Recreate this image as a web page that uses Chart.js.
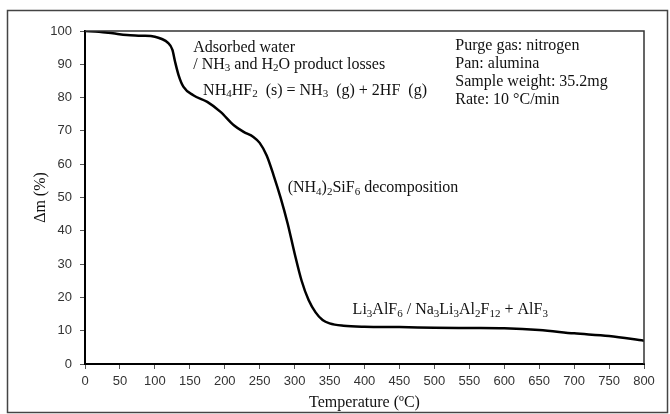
<!DOCTYPE html>
<html>
<head>
<meta charset="utf-8">
<script src="https://cdn.jsdelivr.net/npm/chart.js@4/dist/chart.umd.min.js"></script>
<style>
    html, body { margin: 0; padding: 0; background: #fff; }
    #box { width: 670px; height: 414px; }
</style>
</head>
<body>
<div id="box"><canvas id="tga" width="670" height="414"></canvas></div>
<script>
// temperature (ºC) and mass (%)
var temps = [0, 20, 40, 60, 80, 100, 110, 118, 125, 129, 134, 141, 155, 175, 194, 213, 227, 241, 250, 260,
    270, 280, 290, 300, 310, 320, 330, 340, 350, 370, 400, 450, 500, 550, 600, 650, 700, 750, 800];
var mass = [100, 99.8, 99.3, 98.8, 98.6, 98.3, 97.6, 96.6, 94.4, 90.7, 86.7, 83.2, 80.7, 78.7, 75.7, 71.7, 69.7, 68.2, 66.4, 62.6,
    56.6, 49.9, 42.2, 33.2, 25.0, 19.2, 15.5, 13.2, 12.2, 11.5, 11.2, 11.1, 10.9, 10.8, 10.7, 10.2, 9.2, 8.4, 7.0];

var xTitle = 'Temperature (ºC)';
var yTitle = 'Δm (%)';

// annotation texts, {s: ..} parts are subscripts
var noteTexts = [
    ['Adsorbed water'],
    ['/ NH', {s: '3'}, ' and H', {s: '2'}, 'O product losses'],
    ['NH', {s: '4'}, 'HF', {s: '2'}, '  (s) = NH', {s: '3'}, '  (g) + 2HF  (g)'],
    ['Purge gas: nitrogen'],
    ['Pan: alumina'],
    ['Sample weight: 35.2mg'],
    ['Rate: 10 °C/min'],
    ['(NH', {s: '4'}, ')', {s: '2'}, 'SiF', {s: '6'}, ' decomposition'],
    ['Li', {s: '3'}, 'AlF', {s: '6'}, ' / Na', {s: '3'}, 'Li', {s: '3'}, 'Al', {s: '2'}, 'F', {s: '12'}, ' + AlF', {s: '3'}]
];
// where each note starts (in data units)
var noteAt = [[155, 95.1], [155, 90.0], [169, 82.1], [530, 95.7], [530, 90.2], [530, 84.7], [530, 79.4], [290, 52.8], [383, 16.2]];

var points = [];
for (var i = 0; i < temps.length; i++) {
    points.push({x: temps[i], y: mass[i]});
}

var serif = '"Liberation Serif", "Times New Roman", serif';

// outer frame + box around plot + notes
var extras = {
    id: 'extras',
    beforeDraw: function(chart) {
        var ctx = chart.ctx;
        ctx.save();
        ctx.fillStyle = '#fff';
        ctx.fillRect(0, 0, chart.width, chart.height);
        ctx.strokeStyle = '#444';
        ctx.lineWidth = 1.5;
        ctx.strokeRect(7.5, 10.5, 660, 402);
        ctx.restore();
    },
    afterDraw: function(chart) {
        var ctx = chart.ctx;
        var a = chart.chartArea;
        ctx.save();
        ctx.strokeStyle = '#333';
        ctx.lineWidth = 1.5;
        ctx.beginPath();
        ctx.moveTo(a.left, a.top);
        ctx.lineTo(a.right, a.top);
        ctx.lineTo(a.right, a.bottom);
        ctx.stroke();

        ctx.fillStyle = '#111';
        ctx.textBaseline = 'middle';
        ctx.textAlign = 'left';
        for (var i = 0; i < noteTexts.length; i++) {
            var x = chart.scales.x.getPixelForValue(noteAt[i][0]);
            var y = chart.scales.y.getPixelForValue(noteAt[i][1]);
            var parts = noteTexts[i];
            for (var j = 0; j < parts.length; j++) {
                var p = parts[j];
                if (typeof p === 'string') {
                    ctx.font = '16px ' + serif;
                    ctx.fillText(p, x, y);
                    x += ctx.measureText(p).width;
                } else {
                    ctx.font = '11px ' + serif;
                    ctx.fillText(p.s, x, y + 4);
                    x += ctx.measureText(p.s).width;
                }
            }
        }
        ctx.restore();
    }
};

var ctx = document.getElementById('tga').getContext('2d');
window.tgaChart = new Chart(ctx, {
    type: 'line',
    data: {
        datasets: [{
            data: points,
            borderColor: '#000',
            borderWidth: 2.5,
            pointRadius: 0,
            fill: false,
            cubicInterpolationMode: 'monotone'
        }]
    },
    options: {
        responsive: false,
        animation: false,
        layout: {padding: {left: 0, right: 26, top: 31, bottom: 0}},
        plugins: {legend: {display: false}, tooltip: {enabled: false}},
        scales: {
            x: {
                type: 'linear',
                min: 0,
                max: 800,
                afterFit: function(scale) { scale.height = 50; },
                ticks: {stepSize: 50, padding: 5, color: '#333',
                    font: {family: '"Liberation Sans", Arial, sans-serif', size: 13}},
                grid: {drawOnChartArea: false, drawTicks: true, tickLength: 5, color: '#555'},
                border: {color: '#000', width: 2},
                title: {display: true, text: xTitle, color: '#111', padding: {top: 0, bottom: 2},
                    font: {family: serif, size: 16}}
            },
            y: {
                min: 0,
                max: 100,
                afterFit: function(scale) { scale.width = 85; },
                ticks: {stepSize: 10, padding: 8, color: '#333',
                    font: {family: '"Liberation Sans", Arial, sans-serif', size: 13}},
                grid: {drawOnChartArea: false, drawTicks: true, tickLength: 5, color: '#555'},
                border: {color: '#000', width: 2},
                title: {display: true, text: yTitle, color: '#111', padding: {top: 31, bottom: 0},
                    font: {family: serif, size: 16}}
            }
        }
    },
    plugins: [extras]
});
</script>
</body>
</html>
